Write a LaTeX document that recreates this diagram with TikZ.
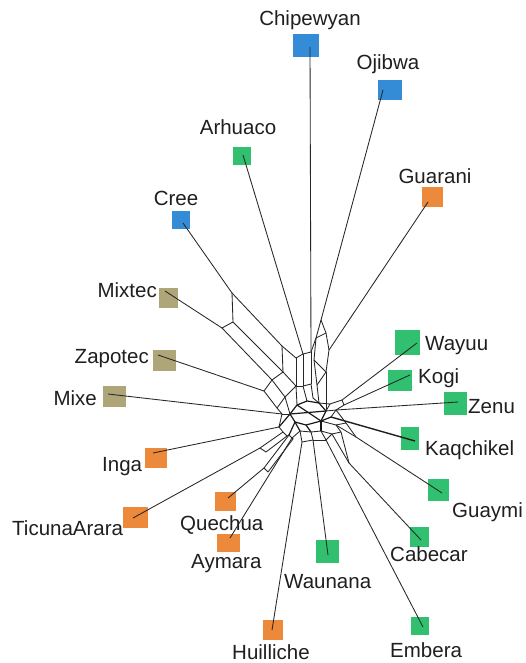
\documentclass[tikz,border=0pt]{standalone}
\usepackage{fontspec}
\setmainfont{Liberation Sans}
\definecolor{cblue}{RGB}{52,140,215}
\definecolor{cgreen}{RGB}{48,192,112}
\definecolor{corange}{RGB}{237,137,58}
\definecolor{ckhaki}{RGB}{174,165,120}
\begin{document}
\begin{tikzpicture}[x=1pt,y=-1pt]
\tikzset{
 sq/.style={rectangle, inner sep=0pt, draw=none},
 lab/.style={inner sep=0pt, font=\fontsize{20.5}{24}\selectfont, text=black!88},
 edge/.style={draw=black!85, line width=0.85pt, line join=round},
 core edge/.style={draw=black!90, line width=1.2pt, line join=round},
 thick edge/.style={draw=black!88, line width=1.4pt, line join=round},
}
\useasboundingbox (0,0) rectangle (525,663);
\fill[white] (0,0) rectangle (525,663);
% squares
\node[sq,fill=cblue,minimum width=26pt,minimum height=23pt] (sCh) at (306,46) {};
\node[sq,fill=cblue,minimum width=24pt,minimum height=20pt] (sOj) at (390,90) {};
\node[sq,fill=cgreen,minimum width=18pt,minimum height=18pt] (sAr) at (242,156) {};
\node[sq,fill=corange,minimum width=21pt,minimum height=20pt] (sGu) at (432,197) {};
\node[sq,fill=cblue,minimum width=18pt,minimum height=18pt] (sCr) at (181,220) {};
\node[sq,fill=ckhaki,minimum width=19pt,minimum height=20pt] (sMt) at (168,298) {};
\node[sq,fill=ckhaki,minimum width=23pt,minimum height=21pt] (sZa) at (164,360) {};
\node[sq,fill=ckhaki,minimum width=23pt,minimum height=21pt] (sMi) at (114,396) {};
\node[sq,fill=cgreen,minimum width=25pt,minimum height=25pt] (sWa) at (407,342) {};
\node[sq,fill=cgreen,minimum width=24pt,minimum height=21pt] (sKo) at (400,380) {};
\node[sq,fill=cgreen,minimum width=23pt,minimum height=23pt] (sZe) at (455,403) {};
\node[sq,fill=cgreen,minimum width=18pt,minimum height=23pt] (sKq) at (410,438) {};
\node[sq,fill=cgreen,minimum width=21pt,minimum height=22pt] (sGy) at (438,490) {};
\node[sq,fill=cgreen,minimum width=19pt,minimum height=20pt] (sCb) at (419,537) {};
\node[sq,fill=cgreen,minimum width=18pt,minimum height=18pt] (sEm) at (420,626) {};
\node[sq,fill=cgreen,minimum width=23pt,minimum height=23pt] (sWn) at (327,551) {};
\node[sq,fill=corange,minimum width=20pt,minimum height=20pt] (sHu) at (273,630) {};
\node[sq,fill=corange,minimum width=23pt,minimum height=18pt] (sAy) at (228,543) {};
\node[sq,fill=corange,minimum width=21pt,minimum height=19pt] (sQu) at (225,501) {};
\node[sq,fill=corange,minimum width=25pt,minimum height=21pt] (sTi) at (135,517) {};
\node[sq,fill=corange,minimum width=22pt,minimum height=20pt] (sIn) at (156,458) {};
% labels
\node[lab,anchor=base] (lCh) at (310,26) {Chipewyan};
\node[lab,anchor=base] (lOj) at (388,70) {Ojibwa};
\node[lab,anchor=base] (lAr) at (238,135) {Arhuaco};
\node[lab,anchor=base] (lGu) at (435,183) {Guarani};
\node[lab,anchor=base] (lCr) at (176,205) {Cree};
\node[lab,anchor=base east] (lMt) at (157,297) {Mixtec};
\node[lab,anchor=base east] (lZa) at (149,363) {Zapotec};
\node[lab,anchor=base east] (lMi) at (97,405) {Mixe};
\node[lab,anchor=base west] (lWa) at (425,350) {Wayuu};
\node[lab,anchor=base west] (lKo) at (418,383) {Kogi};
\node[lab,anchor=base west] (lZe) at (468,413) {Zenu};
\node[lab,anchor=base west] (lKq) at (425,455) {Kaqchikel};
\node[lab,anchor=base west] (lGy) at (452,517) {Guaymi};
\node[lab,anchor=base west] (lCb) at (390,561) {Cabecar};
\node[lab,anchor=base west] (lEm) at (390,657) {Embera};
\node[lab,anchor=base west] (lWn) at (284,588) {Waunana};
\node[lab,anchor=base west] (lHu) at (232,659) {Huilliche};
\node[lab,anchor=base west] (lAy) at (191,568) {Aymara};
\node[lab,anchor=base west] (lQu) at (180,530) {Quechua};
\node[lab,anchor=base west] (lTi) at (12,535) {TicunaArara};
\node[lab,anchor=base west] (lIn) at (102,471) {Inga};
% leaf end points
\coordinate (eCh) at (310,47);
\coordinate (eOj) at (383,90);
\coordinate (eAr) at (243,155);
\coordinate (eGu) at (428,202);
\coordinate (eCr) at (183,223);
\coordinate (eMt) at (165,291);
\coordinate (eZa) at (158,355);
\coordinate (eMi) at (108,394);
\coordinate (eWa) at (417,343);
\coordinate (eKo) at (410,375);
\coordinate (eZe) at (458,402);
\coordinate (eKq) at (415,441);
\coordinate (eGy) at (442,493);
\coordinate (eCb) at (421,540);
\coordinate (eEm) at (423,627);
\coordinate (eWn) at (328,555);
\coordinate (eHu) at (272,630);
\coordinate (eAy) at (230,538);
\coordinate (eQu) at (228,498);
\coordinate (eTi) at (133,518);
\coordinate (eIn) at (153,453);
% network nodes
\coordinate (a1) at (232,293);
\coordinate (a3) at (233,322);
\coordinate (a2) at (222,328);
\coordinate (b1) at (282,346);
\coordinate (b3) at (283,372);
\coordinate (b2) at (272,380);
\coordinate (ar1) at (303,354);
\coordinate (ar2) at (296,358);
\coordinate (ar3) at (303,386);
\coordinate (ar4) at (296,386);
\coordinate (c3) at (285,397);
\coordinate (z1) at (264,391);
\coordinate (c4) at (277,408);
\coordinate (m1) at (282,414);
\coordinate (k1) at (290,414);
\coordinate (k2) at (297,405);
\coordinate (k3) at (307,401);
\coordinate (k4) at (319,403);
\coordinate (k5) at (326,411);
\coordinate (k6) at (321,421);
\coordinate (k7) at (306,425);
\coordinate (k8) at (295,422);
\coordinate (ch1) at (311,352);
\coordinate (ch2) at (311,384);
\coordinate (ch3) at (313,398);
\coordinate (oj1) at (321,320);
\coordinate (u1) at (316,338);
\coordinate (u2) at (326,333);
\coordinate (u3) at (314,360);
\coordinate (gu1) at (329,350);
\coordinate (u4) at (317,385);
\coordinate (u5) at (326,372);
\coordinate (w1) at (342,400);
\coordinate (ko1) at (344,405);
\coordinate (r1) at (330,404);
\coordinate (ze1) at (336,410);
\coordinate (kq1) at (331,417);
\coordinate (gy1) at (356,437);
\coordinate (gy2) at (336,425);
\coordinate (gy3) at (346,423);
\coordinate (cb1) at (349,463);
\coordinate (cb2) at (332,434);
\coordinate (cb3) at (341,432);
\coordinate (em1) at (326,440);
\coordinate (wn1) at (313,440);
\coordinate (hu1) at (302,442);
\coordinate (l1) at (300,431);
\coordinate (l2) at (311,432);
\coordinate (l3) at (321,431);
\coordinate (ay1) at (292,438);
\coordinate (qu1) at (264,468);
\coordinate (qu3) at (268,472);
\coordinate (qu2) at (289,435);
\coordinate (qu4) at (293,439);
\coordinate (ti1) at (260,448);
\coordinate (ti3) at (266,452);
\coordinate (ti2) at (283,432);
\coordinate (ti4) at (287,436);
\coordinate (in1) at (279,427);
% pendant edges
\foreach \a/\b in {eCh/ch1,eOj/oj1,eAr/ar1,eGu/gu1,eCr/a1,eMt/a2,eZa/z1,eMi/m1,
  eWa/w1,eKo/ko1,eZe/ze1,eGy/gy1,eCb/cb1,eEm/em1,eWn/wn1,eHu/hu1,eAy/ay1,
  eQu/qu1,eTi/ti1,eIn/in1}
  \draw[edge] (\a) -- (\b);
\draw[thick edge] (eKq) -- (kq1);
% network edges
\foreach \a/\b in {a1/a3,a3/a2,a1/b1,a3/b3,a2/b2,b1/b3,b3/b2,
  b1/ar2,b3/ar4,b2/c3,ar1/ar2,ar1/ar3,ar2/ar4,ar3/ar4,ar4/c3,
  ar3/k3,ar4/k2,c3/k1,z1/b2,z1/c4,c3/c4,c4/m1,m1/k1,
  ch1/ar1,ch1/ch2,ch2/ar3,ch2/ch3,ch3/k4,
  oj1/u1,oj1/u2,u1/u2,u1/u3,u2/gu1,u3/u4,gu1/u5,u3/u5,u4/u5,u4/k4,u5/k5,u1/ch1,
  w1/ko1,w1/r1,r1/k4,r1/k5,ko1/ze1,ze1/k5,ze1/kq1,
  gy1/gy2,gy1/gy3,gy2/gy3,gy2/k6,gy3/ze1,
  cb1/cb2,cb1/cb3,cb2/cb3,cb2/l3,cb3/gy2,em1/l3,em1/cb2,
  wn1/l2,wn1/em1,hu1/l1,hu1/wn1,l1/l2,l2/l3,
  ay1/l1,ay1/qu4,qu1/qu2,qu1/qu3,qu3/qu4,qu2/qu4,
  ti1/ti2,ti1/ti3,ti3/ti4,ti2/ti4,ti4/qu2,ti2/in1,in1/m1}
  \draw[edge] (\a) -- (\b);
% dense core
\foreach \a/\b in {k1/k2,k2/k3,k3/k4,k4/k5,k5/k6,k6/k7,k7/k8,k8/k1,k2/k6,k1/k5,
  kq1/k6,in1/k1,qu2/k8,l1/k8,l2/k7,l3/k6}
  \draw[core edge] (\a) -- (\b);
\end{tikzpicture}
\end{document}
